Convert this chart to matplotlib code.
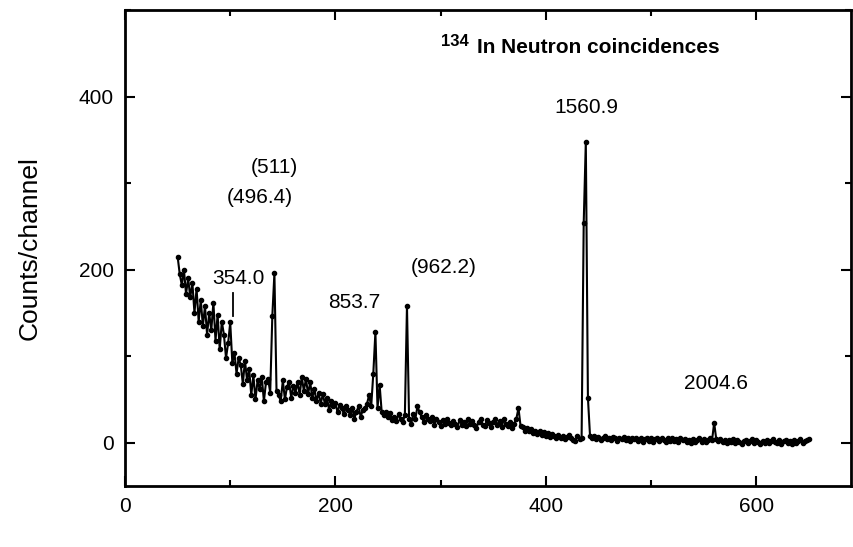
import numpy as np
import matplotlib
matplotlib.use("Agg")
import matplotlib.pyplot as plt
from matplotlib.ticker import MultipleLocator

plt.rcParams['font.family'] = ['Liberation Sans', 'DejaVu Sans']

# channel numbers (every 2nd channel) and counts
channels = list(range(50, 652, 2))
counts = [
    215, 195, 182, 200, 172, 190, 168, 185, 150, 178,
    140, 165, 135, 158, 125, 150, 130, 162, 118, 148,
    108, 140, 125, 98, 115, 139, 92, 104, 80, 98,
    90, 68, 95, 72, 85, 55, 78, 50, 72, 62,
    76, 48, 70, 74, 58, 146, 196, 60, 55, 48,
    72, 50, 65, 70, 52, 66, 58, 70, 55, 76,
    60, 74, 56, 70, 52, 62, 48, 58, 45, 56,
    45, 52, 38, 48, 42, 46, 35, 44, 40, 33,
    42, 38, 32, 40, 28, 36, 42, 30, 38, 40,
    45, 55, 42, 80, 128, 40, 67, 35, 32, 36,
    30, 34, 26, 30, 25, 33, 27, 24, 32, 158,
    28, 22, 33, 28, 42, 35, 30, 24, 32, 28,
    25, 30, 21, 27, 24, 19, 26, 22, 28, 23,
    20, 25, 22, 18, 26, 21, 24, 19, 27, 22,
    25, 20, 17, 24, 28, 21, 19, 26, 23, 18,
    24, 28, 20, 25, 18, 27, 22, 19, 24, 17,
    22, 28, 40, 19, 18, 14, 17, 13, 16, 11,
    14, 10, 13, 9, 12, 8, 11, 7, 10, 8,
    6, 9, 5, 8, 4, 7, 9, 5, 3, 2,
    8, 4, 6, 254, 348, 52, 8, 5, 8, 4,
    7, 3, 6, 8, 4, 6, 3, 7, 5, 2,
    6, 4, 7, 3, 6, 2, 5, 4, 6, 2,
    5, 1, 4, 6, 2, 5, 1, 4, 6, 2,
    5, 3, 1, 5, 2, 6, 2, 4, 1, 5,
    3, 4, 1, 3, 0, 4, 1, 3, 5, 1,
    4, 1, 3, 5, 3, 23, 4, 2, 4, 1,
    3, 0, 3, 1, 4, 0, 3, 1, -1, 2,
    3, 0, 2, 4, 0, 3, 1, -1, 2, 0,
    3, 0, 2, 4, 1, 0, 3, -1, 2, 3,
    0, 2, -1, 3, 0, 2, 4, 0, 2, 3,
    4,
]

# peak labels: text, x, y
peak_labels = ["354.0", "(511)", "(496.4)", "853.7", "(962.2)", "1560.9", "2004.6"]
label_x = [108, 142, 128, 218, 303, 439, 562]
label_y = [190, 318, 283, 162, 203, 388, 69]

fig = plt.figure(figsize=(8.54, 5.47), dpi=100)
ax = fig.add_axes([0.1464, 0.1115, 0.85, 0.870])

ax.plot(channels, counts, color='black', lw=1.5, marker='o', ms=3)

for t, lx, ly in zip(peak_labels, label_x, label_y):
    ax.text(lx, ly, t, ha='center', va='center', fontsize=15)

# marker line under 354.0
ax.plot([103, 103], [147, 173], color='black', lw=1.3)

ax.text(300, 464, '134', ha='left', va='center', fontsize=12, fontweight='bold')
ax.text(335, 457, 'In Neutron coincidences', ha='left', va='center',
        fontsize=15, fontweight='bold')

ax.set_xlim(0, 690)
ax.set_ylim(-50, 500)
ax.set_xticks([0, 200, 400, 600])
ax.set_yticks([0, 200, 400])
ax.xaxis.set_minor_locator(MultipleLocator(100))
ax.yaxis.set_minor_locator(MultipleLocator(100))
ax.tick_params(which='both', direction='in', top=True, right=True, width=1.5,
               labelsize=15, pad=8)
ax.tick_params(which='major', length=7)
ax.tick_params(which='minor', length=4)
for s in ax.spines.values():
    s.set_linewidth(2)

ax.set_ylabel("Counts/channel", fontsize=19, labelpad=27)

fig.savefig("out.png", dpi=100)
